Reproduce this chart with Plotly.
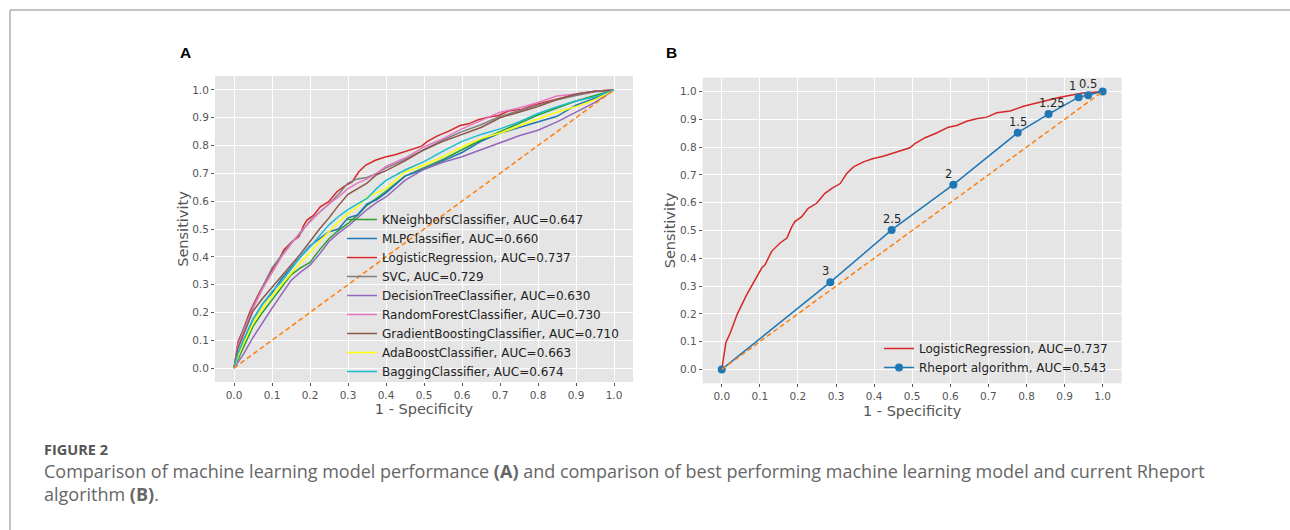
import plotly.graph_objects as go

W, H = 1290, 530

# ---------------- data ----------------
fpr_grid = [0, 0.01, 0.025, 0.05, 0.075, 0.1, 0.125, 0.15, 0.175, 0.2, 0.225, 0.25, 0.275,
            0.3, 0.325, 0.35, 0.375, 0.4, 0.45, 0.5, 0.55, 0.6, 0.65, 0.7, 0.75, 0.8,
            0.85, 0.9, 0.95, 1.0]

knn_tpr = [0, 0.03, 0.07, 0.15, 0.20, 0.245, 0.29, 0.335, 0.36, 0.38, 0.425, 0.465, 0.495,
           0.52, 0.55, 0.585, 0.61, 0.635, 0.69, 0.72, 0.75, 0.785, 0.82, 0.85, 0.88, 0.91,
           0.935, 0.96, 0.98, 1.0]
mlp_tpr = [0, 0.05, 0.10, 0.175, 0.23, 0.27, 0.32, 0.36, 0.40, 0.44, 0.465, 0.49, 0.50,
           0.54, 0.55, 0.59, 0.605, 0.63, 0.69, 0.715, 0.745, 0.775, 0.815, 0.845, 0.865,
           0.885, 0.905, 0.945, 0.97, 1.0]
svc_tpr = [0, 0.085, 0.14, 0.22, 0.29, 0.36, 0.405, 0.45, 0.485, 0.53, 0.56, 0.59, 0.625,
           0.665, 0.68, 0.685, 0.70, 0.72, 0.75, 0.785, 0.82, 0.85, 0.875, 0.905, 0.925,
           0.945, 0.965, 0.98, 0.993, 1.0]
dt_tpr = [0, 0.02, 0.05, 0.11, 0.165, 0.215, 0.265, 0.315, 0.345, 0.37, 0.41, 0.455, 0.485,
          0.51, 0.54, 0.57, 0.595, 0.615, 0.675, 0.715, 0.74, 0.76, 0.785, 0.81, 0.835,
          0.855, 0.885, 0.92, 0.955, 1.0]
rf_tpr = [0, 0.08, 0.13, 0.215, 0.285, 0.345, 0.40, 0.445, 0.49, 0.525, 0.56, 0.59, 0.615,
          0.645, 0.665, 0.68, 0.70, 0.725, 0.755, 0.795, 0.825, 0.86, 0.89, 0.92, 0.935,
          0.955, 0.978, 0.985, 0.995, 1.0]
gb_tpr = [0, 0.07, 0.12, 0.205, 0.25, 0.29, 0.33, 0.37, 0.41, 0.455, 0.50, 0.54, 0.585,
          0.625, 0.645, 0.665, 0.695, 0.71, 0.745, 0.785, 0.815, 0.84, 0.865, 0.90, 0.92,
          0.94, 0.965, 0.985, 0.995, 1.0]
ada_tpr = [0, 0.04, 0.09, 0.16, 0.215, 0.26, 0.30, 0.34, 0.38, 0.415, 0.455, 0.49, 0.525,
           0.555, 0.58, 0.615, 0.63, 0.645, 0.705, 0.73, 0.76, 0.795, 0.825, 0.845, 0.87,
           0.895, 0.92, 0.94, 0.965, 1.0]
bag_tpr = [0, 0.05, 0.10, 0.175, 0.23, 0.275, 0.31, 0.355, 0.40, 0.435, 0.475, 0.515, 0.545,
           0.57, 0.59, 0.61, 0.645, 0.675, 0.712, 0.742, 0.78, 0.815, 0.84, 0.86, 0.885,
           0.915, 0.94, 0.96, 0.975, 1.0]

# Logistic regression (shared by both panels)
lr_fpr = [0, 0.011, 0.022, 0.041, 0.066, 0.092, 0.105, 0.114, 0.131, 0.153, 0.171, 0.184,
          0.192, 0.21, 0.227, 0.249, 0.271, 0.289, 0.311, 0.328, 0.346, 0.372, 0.398, 0.424,
          0.459, 0.494, 0.507, 0.534, 0.564, 0.595, 0.617, 0.643, 0.669, 0.696, 0.722, 0.757,
          0.792, 0.818, 0.853, 0.888, 0.923, 0.949, 0.976, 1.0]
lr_tpr = [0, 0.097, 0.13, 0.20, 0.27, 0.33, 0.365, 0.377, 0.425, 0.455, 0.473, 0.514,
          0.532, 0.55, 0.58, 0.598, 0.634, 0.652, 0.669, 0.705, 0.729, 0.747, 0.759, 0.767,
          0.783, 0.798, 0.813, 0.834, 0.851, 0.872, 0.878, 0.893, 0.902, 0.908, 0.924, 0.930,
          0.947, 0.956, 0.968, 0.980, 0.989, 0.995, 0.998, 1.0]

models = ["KNeighborsClassifier", "MLPClassifier", "LogisticRegression", "SVC",
          "DecisionTreeClassifier", "RandomForestClassifier", "GradientBoostingClassifier",
          "AdaBoostClassifier", "BaggingClassifier"]
aucs = [0.647, 0.660, 0.737, 0.729, 0.630, 0.730, 0.710, 0.663, 0.674]
colors = ["#2ca02c", "#1f77b4", "#d62728", "#7f7f7f", "#9467bd", "#e377c2", "#8c564b",
          "#ffff00", "#17becf"]
model_x = [fpr_grid, fpr_grid, lr_fpr, fpr_grid, fpr_grid, fpr_grid, fpr_grid, fpr_grid, fpr_grid]
model_y = [knn_tpr, mlp_tpr, lr_tpr, svc_tpr, dt_tpr, rf_tpr, gb_tpr, ada_tpr, bag_tpr]

# Rheport algorithm thresholds
rheport_fpr = [0, 0.285, 0.446, 0.608, 0.777, 0.858, 0.937, 0.962, 1.0]
rheport_tpr = [0, 0.314, 0.502, 0.665, 0.852, 0.919, 0.980, 0.987, 1.0]
rheport_lbl = ["", "3", "2.5", "2", "1.5", "1.25", "1", "0.5", ""]
rheport_auc = 0.543
label_dx = [0, -5, 0, -5, 0, 3, -6, 0, 0]

diag = [0, 1]
ticks = [0.0, 0.1, 0.2, 0.3, 0.4, 0.5, 0.6, 0.7, 0.8, 0.9, 1.0]

# ---------------- figure ----------------
fig = go.Figure()
FONT = "DejaVu Sans"

for name, auc, c, xs, ys in zip(models, aucs, colors, model_x, model_y):
    fig.add_trace(go.Scatter(x=xs, y=ys, mode="lines", name=f"{name}, AUC={auc:.3f}",
                             line=dict(color=c, width=1.5), xaxis="x", yaxis="y",
                             legend="legend"))
fig.add_trace(go.Scatter(x=diag, y=diag, mode="lines", showlegend=False,
                         line=dict(color="#ff7f0e", width=1.5, dash="5px,3px"),
                         xaxis="x", yaxis="y"))

fig.add_trace(go.Scatter(x=lr_fpr, y=lr_tpr, mode="lines",
                         name=f"LogisticRegression, AUC={aucs[2]:.3f}",
                         line=dict(color="#d62728", width=1.5), xaxis="x2", yaxis="y2",
                         legend="legend2"))
fig.add_trace(go.Scatter(x=rheport_fpr, y=rheport_tpr, mode="lines+markers",
                         name=f"Rheport algorithm, AUC={rheport_auc:.3f}",
                         line=dict(color="#1f77b4", width=1.5),
                         marker=dict(color="#1f77b4", size=8), xaxis="x2", yaxis="y2",
                         legend="legend2"))
fig.add_trace(go.Scatter(x=diag, y=diag, mode="lines", showlegend=False,
                         line=dict(color="#ff7f0e", width=1.5, dash="5px,3px"),
                         xaxis="x2", yaxis="y2"))

for xv, yv, t, dx in zip(rheport_fpr, rheport_tpr, rheport_lbl, label_dx):
    if t:
        fig.add_annotation(x=xv, y=yv, xref="x2", yref="y2", text=t, showarrow=False,
                           xshift=dx, yshift=11, font=dict(family=FONT, size=11.5, color="#262626"))

def ax(domain, title, anchor, standoff):
    return dict(domain=domain, range=[-0.05, 1.05], tickvals=ticks, tickformat=".1f",
                showgrid=True, gridcolor="white", gridwidth=1, zeroline=False,
                showline=False, ticks="outside", ticklen=3, tickcolor="#555555",
                tickfont=dict(family=FONT, size=10.5, color="#555555"),
                title=dict(text=title, font=dict(family=FONT, size=14.5, color="#555555"),
                           standoff=standoff),
                anchor=anchor, fixedrange=True)

xa1 = [215 / W, 633 / W]
ya1 = [1 - 382 / H, 1 - 76 / H]
xa2 = [702.7 / W, 1121.7 / W]
ya2 = [1 - 383.3 / H, 1 - 77.7 / H]

fig.update_layout(
    width=W, height=H, margin=dict(l=0, r=0, t=0, b=0),
    paper_bgcolor="white", plot_bgcolor="#E5E5E5",
    xaxis=ax(xa1, "1 - Specificity", "y", 4),
    yaxis=ax(ya1, "Sensitivity", "x", 0),
    xaxis2=ax(xa2, "1 - Specificity", "y2", 4),
    yaxis2=ax(ya2, "Sensitivity", "x2", 0),
    legend=dict(x=342 / W, y=1 - 205 / H, xanchor="left", yanchor="top",
                bgcolor="rgba(0,0,0,0)", font=dict(family=FONT, size=12, color="#222222"),
                tracegroupgap=0, itemwidth=30),
    legend2=dict(x=879 / W, y=1 - 334 / H, xanchor="left", yanchor="top",
                 bgcolor="rgba(0,0,0,0)", font=dict(family=FONT, size=12, color="#222222"),
                 itemwidth=30),
    showlegend=True,
)

# panel letters
fig.add_annotation(x=185.5 / W, y=1 - 52.5 / H, xref="paper", yref="paper", text="<b>A</b>",
                   xanchor="center", yanchor="middle", showarrow=False,
                   font=dict(family="Liberation Sans", size=15.5, color="black"))
fig.add_annotation(x=671 / W, y=1 - 52.5 / H, xref="paper", yref="paper", text="<b>B</b>",
                   xanchor="center", yanchor="middle", showarrow=False,
                   font=dict(family="Liberation Sans", size=15.5, color="black"))

# caption
fig.add_annotation(x=42 / W, y=1 - 449 / H, xref="paper", yref="paper", xanchor="left",
                   yanchor="middle", text="<b>FIGURE 2</b>", showarrow=False,
                   font=dict(family="Open Sans", size=14.5, color="#555555"))
fig.add_annotation(x=42 / W, y=1 - 482 / H, xref="paper", yref="paper", xanchor="left",
                   yanchor="middle", align="left",
                   text="Comparison of machine learning model performance <b>(A)</b> and comparison "
                        "of best performing machine learning model and current Rheport"
                        "<br>algorithm <b>(B)</b>.",
                   showarrow=False, font=dict(family="Open Sans", size=18, color="#666666"))

# frame lines of the figure box
fig.add_shape(type="line", xref="paper", yref="paper", x0=10 / W, x1=1, y0=1 - 10 / H,
              y1=1 - 10 / H, line=dict(color="#b0b0b0", width=1.5))
fig.add_shape(type="line", xref="paper", yref="paper", x0=10 / W, x1=10 / W, y0=0,
              y1=1 - 10 / H, line=dict(color="#b0b0b0", width=1.5))

fig.write_html("out.html", config={"displayModeBar": False},
               post_script="document.body.style.margin='0';document.body.style.overflow='hidden';")
